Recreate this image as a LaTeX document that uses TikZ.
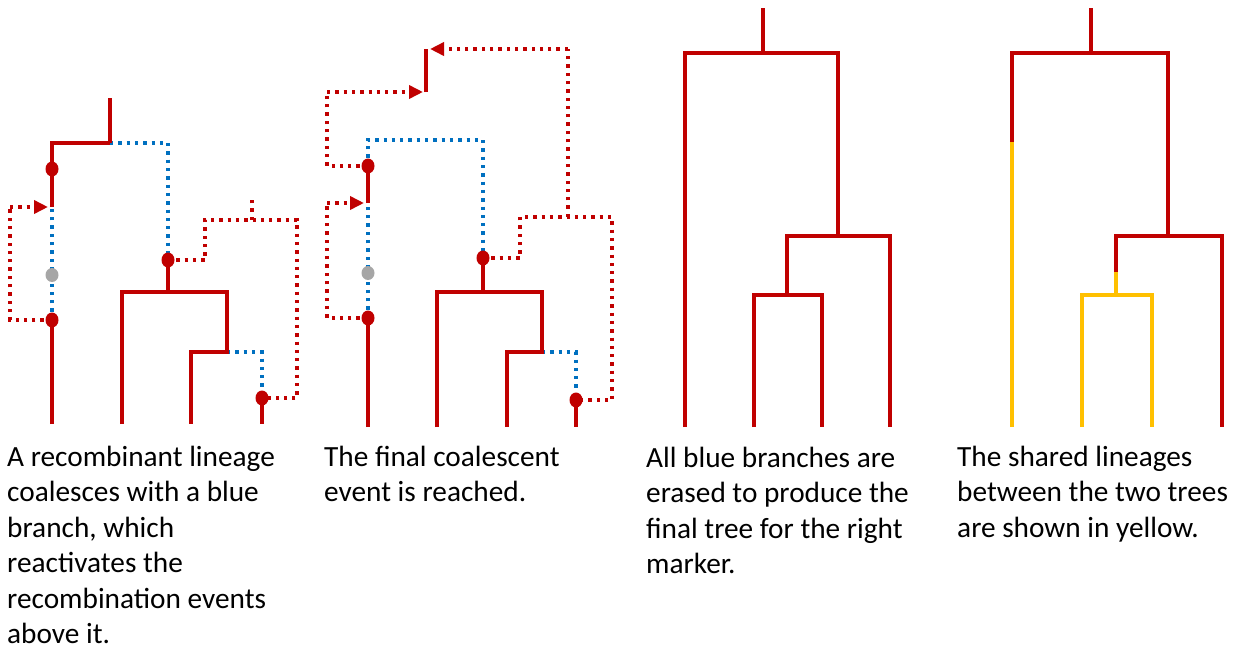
\documentclass[tikz,border=0pt]{standalone}
\usepackage{fontspec}
\setmainfont{Carlito}
\usetikzlibrary{arrows.meta,shapes.geometric}
\definecolor{tred}{HTML}{C00000}
\definecolor{tblue}{HTML}{0070C0}
\definecolor{tgray}{HTML}{A6A6A6}
\definecolor{tyellow}{HTML}{FFC000}
\tikzset{
  branch/.style={draw=tred, line width=4pt, line join=miter},
  shared/.style={draw=tyellow, line width=3.6pt, line join=miter},
  bluedot/.style={draw=tblue, line width=3.5pt, dash pattern=on 3.3pt off 5pt},
  reddot/.style={draw=tred, line width=3.5pt, dash pattern=on 3.3pt off 5pt},
  tip/.style={-{Triangle[length=14pt,width=13pt]}},
  event/.style={ellipse, fill=tred, minimum width=13pt, minimum height=15pt, inner sep=0pt},
  ghost/.style={ellipse, fill=tgray, minimum width=13pt, minimum height=14pt, inner sep=0pt},
  caption/.style={anchor=base west, inner sep=0pt,
    font=\fontsize{29.3}{35.5}\selectfont, text=black}
}
% caption lines, first baseline on the node's base
\newcommand\captionlines[1]{\begin{tabular}[t]{@{}l@{}}#1\end{tabular}}
\begin{document}
\begin{tikzpicture}[x=1pt,y=-1pt]
\useasboundingbox (0,0) rectangle (1238,648);

% ---------- panel 1 ----------
\coordinate (a1) at (52,320);
\coordinate (a2) at (52,169);
\coordinate (a3) at (168,260);
\coordinate (a4) at (262,398);
\coordinate (ag) at (52,275);
\coordinate (ain) at (52,207);
\coordinate (atop) at (110,143);
% recombination loops
\draw[reddot] (a1) -- (10,320) -- (10,207);
\draw[reddot,tip] (10,207) -- (48,207);
\draw[reddot] (a3) -- (205,260) -- (205,220) -- (297,220) -- (297,398) -- (a4);
\draw[reddot] (252,220) -- (252,197);
% blue branches
\draw[bluedot] (a1) -- (ain);
\draw[bluedot] (atop) -- (168,143) -- (a3);
\draw[bluedot] (227,352) -- (262,352) -- (a4);
% red branches
\draw[branch] (52,424) -- (a1);
\draw[branch] (ain) -- (52,143) -- (atop);
\draw[branch] (atop) -- (110,98);
\draw[branch] (a3) -- (168,292);
\draw[branch] (122,424) -- (122,292) -- (227,292) -- (227,352) -- (191,352) -- (191,424);
\draw[branch] (a4) -- (262,424);
% events
\node[event] (p1e1) at (a1) {};
\node[event] (p1e2) at (a2) {};
\node[event] (p1e3) at (a3) {};
\node[event] (p1e4) at (a4) {};
\node[ghost] (p1g) at (ag) {};

% ---------- panel 2 ----------
\coordinate (b1) at (368,318);
\coordinate (b2) at (368,166);
\coordinate (b3) at (483,258);
\coordinate (b4) at (576,400);
\coordinate (bg) at (368,273);
\coordinate (bin) at (368,203);
\coordinate (bk) at (426,92);
% recombination loops
\draw[reddot] (b1) -- (327,318) -- (327,203);
\draw[reddot,tip] (327,203) -- (364,203);
\draw[reddot] (b2) -- (327,166) -- (327,92);
\draw[reddot,tip] (327,92) -- (423,92);
\draw[reddot] (b3) -- (520,258) -- (520,217) -- (612,217) -- (612,400) -- (b4);
\draw[reddot] (568,217) -- (568,49);
\draw[reddot,tip] (568,49) -- (430,49);
% blue branches
\draw[bluedot] (b1) -- (bin);
\draw[bluedot] (b2) -- (368,140) -- (483,140) -- (b3);
\draw[bluedot] (542,352) -- (576,352) -- (b4);
% red branches
\draw[branch] (368,427) -- (b1);
\draw[branch] (bin) -- (b2);
\draw[branch] (bk) -- (426,49);
\draw[branch] (b3) -- (483,292);
\draw[branch] (437,427) -- (437,292) -- (542,292) -- (542,352) -- (507,352) -- (507,427);
\draw[branch] (b4) -- (576,427);
% events
\node[event] (p2e1) at (b1) {};
\node[event] (p2e2) at (b2) {};
\node[event] (p2e3) at (b3) {};
\node[event] (p2e4) at (b4) {};
\node[ghost] (p2g) at (bg) {};

% ---------- panel 3: final tree ----------
\coordinate (c0) at (763,53);
\coordinate (c1) at (838,236);
\coordinate (c2) at (787,295);
\draw[branch] (c0) -- (763,8);
\draw[branch] (685,427) -- (685,53) -- (838,53) -- (c1);
\draw[branch] (c1) -- (787,236) -- (c2);
\draw[branch] (c1) -- (890,236) -- (890,427);
\draw[branch] (754,427) -- (754,295) -- (822,295) -- (822,427);

% ---------- panel 4: shared lineages ----------
\coordinate (d0) at (1091,53);
\coordinate (d1) at (1168,236);
\coordinate (d2) at (1116,295);
\draw[branch] (d0) -- (1091,8);
\draw[shared] (1012,427) -- (1012,142);
\draw[branch] (1012,142) -- (1012,53) -- (1168,53) -- (d1);
\draw[branch] (d1) -- (1222,236) -- (1222,427);
\draw[branch] (d1) -- (1116,236) -- (1116,272);
\draw[shared] (1116,272) -- (d2);
\draw[shared] (1082,427) -- (1082,295) -- (1152,295) -- (1152,427);

% ---------- captions ----------
\node[caption] (cap1) at (7,466) {\captionlines{A recombinant lineage\\coalesces with a blue\\branch, which\\reactivates the\\recombination events\\above it.}};
\node[caption] (cap2) at (324,466) {\captionlines{The final coalescent\\event is reached.}};
\node[caption] (cap3) at (646,467) {\captionlines{All blue branches are\\erased to produce the\\final tree for the right\\marker.}};
\node[caption] (cap4) at (957,466) {\captionlines{The shared lineages\\between the two trees\\are shown in yellow.}};
\end{tikzpicture}
\end{document}
